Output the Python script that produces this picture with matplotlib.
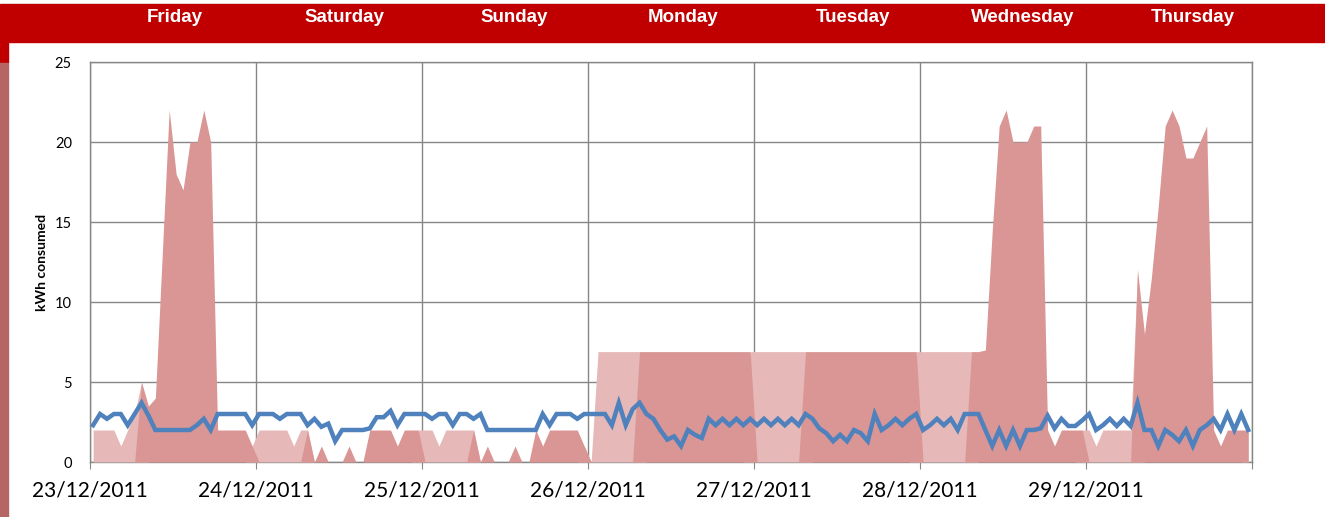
import matplotlib.pyplot as plt
import numpy as np
from matplotlib.patches import Rectangle

# Hourly readings, 23/12/2011 00:00 -> 29/12/2011 23:00
kwh_consumed = [
    # 23/12
    2, 2, 2, 2, 1, 2, 3, 5, 3.5, 4, 13, 22, 18, 17, 20, 20, 22, 20, 2, 2, 2, 2, 2, 1,
    # 24/12
    2, 2, 2, 2, 2, 1, 2, 2, 0, 1, 0, 0, 0, 1, 0, 0, 2, 2, 2, 2, 1, 2, 2, 2,
    # 25/12
    2, 2, 1, 2, 2, 2, 2, 2, 0, 1, 0, 0, 0, 1, 0, 0, 2, 1, 2, 2, 2, 2, 2, 1,
    # 26/12
    0, 6.9, 6.9, 6.9, 6.9, 6.9, 6.9, 6.9, 6.9, 6.9, 6.9, 6.9, 6.9, 6.9, 6.9, 6.9,
    6.9, 6.9, 6.9, 6.9, 6.9, 6.9, 6.9, 6.9,
    # 27/12
    6.9, 6.9, 6.9, 6.9, 6.9, 6.9, 6.9, 6.9, 6.9, 6.9, 6.9, 6.9, 6.9, 6.9, 6.9, 6.9,
    6.9, 6.9, 6.9, 6.9, 6.9, 6.9, 6.9, 6.9,
    # 28/12
    6.9, 6.9, 6.9, 6.9, 6.9, 6.9, 6.9, 6.9, 6.9, 7.0, 14.5, 21, 22, 20, 20, 20,
    21, 21, 2, 1, 2, 2, 2, 2,
    # 29/12
    2, 1, 2, 2, 2, 2, 2, 12, 8, 11.5, 16, 21, 22, 21, 19, 19, 20, 21, 2, 1, 2, 2, 2, 2,
]

baseline = [
    # 23/12
    2.3, 3.0, 2.7, 3.0, 3.0, 2.3, 3.0, 3.7, 2.9, 2.0, 2.0, 2.0, 2.0, 2.0, 2.0, 2.3,
    2.7, 2.0, 3.0, 3.0, 3.0, 3.0, 3.0, 2.3,
    # 24/12
    3.0, 3.0, 3.0, 2.7, 3.0, 3.0, 3.0, 2.3, 2.7, 2.2, 2.4, 1.3, 2.0, 2.0, 2.0, 2.0,
    2.1, 2.8, 2.8, 3.2, 2.3, 3.0, 3.0, 3.0,
    # 25/12
    3.0, 2.7, 3.0, 3.0, 2.3, 3.0, 3.0, 2.7, 3.0, 2.0, 2.0, 2.0, 2.0, 2.0, 2.0, 2.0,
    2.0, 3.0, 2.3, 3.0, 3.0, 3.0, 2.7, 3.0,
    # 26/12
    3.0, 3.0, 3.0, 2.3, 3.7, 2.3, 3.3, 3.7, 3.0, 2.7, 2.0, 1.4, 1.6, 1.0, 2.0, 1.7,
    1.5, 2.7, 2.3, 2.7, 2.3, 2.7, 2.3, 2.7,
    # 27/12
    2.3, 2.7, 2.3, 2.7, 2.3, 2.7, 2.3, 3.0, 2.7, 2.1, 1.8, 1.3, 1.7, 1.3, 2.0, 1.8,
    1.3, 3.0, 2.0, 2.3, 2.7, 2.3, 2.7, 3.0,
    # 28/12
    2.0, 2.3, 2.7, 2.3, 2.7, 2.0, 3.0, 3.0, 3.0, 2.0, 1.0, 2.0, 1.0, 2.0, 1.0, 2.0,
    2.0, 2.1, 2.9, 2.1, 2.7, 2.25, 2.25, 2.6,
    # 29/12
    3.0, 2.0, 2.3, 2.7, 2.25, 2.7, 2.25, 3.7, 2.0, 2.0, 1.0, 2.0, 1.7, 1.3, 2.0, 1.0,
    2.0, 2.3, 2.7, 2.0, 3.0, 2.0, 3.0, 2.0,
]

date_labels = ["23/12/2011", "24/12/2011", "25/12/2011", "26/12/2011",
               "27/12/2011", "28/12/2011", "29/12/2011", ""]
day_names = ["Friday", "Saturday", "Sunday", "Monday", "Tuesday", "Wednesday", "Thursday"]

kwh = np.array(kwh_consumed)
hours = np.arange(len(kwh))
x = hours + 0.45
hod = hours % 24
# night tariff 23:00-07:00, day tariff 07:00-23:00 (boundary hours in both)
night_kwh = np.where((hod <= 7) | (hod == 23), kwh, 0)
day_kwh = np.where(hod >= 7, kwh, 0)

W, H = 1325, 517
fig = plt.figure(figsize=(W / 100, H / 100), dpi=100, facecolor="white")

# red banner and left strip
fig.patches.append(Rectangle((0, (H - 42) / H), 1, 38 / H, transform=fig.transFigure,
                             color="#c00000", zorder=0))
fig.patches.append(Rectangle((0, (H - 63) / H), 8 / W, 21 / H, transform=fig.transFigure,
                             color="#c00000", zorder=0))
fig.patches.append(Rectangle((0, 0), 8 / W, (H - 63) / H, transform=fig.transFigure,
                             color="#b56664", zorder=0))

for k, name in enumerate(day_names):
    fig.text((174.7 + 169.6 * k) / W, 1 - 17.5 / H, name, color="white",
             fontsize=13.5, fontweight="bold", family="Liberation Sans",
             ha="center", va="center")

ax = fig.add_axes([90 / W, 55 / H, 1162 / W, 400 / H])
ax.fill_between(x, 0, night_kwh, color="#e6b9b8", lw=0, zorder=2)
ax.fill_between(x, 0, day_kwh, color="#d99694", lw=0, zorder=3)
ax.plot(x, baseline, color="#4f81bd", lw=3.2, zorder=4, solid_joinstyle="miter")

ax.set_xlim(0, 168)
ax.set_ylim(0, 25)
ax.set_xticks(np.arange(0, 169, 24))
ax.set_xticklabels(date_labels, fontsize=15, family="Lato")
ax.set_yticks(np.arange(0, 26, 5))
ax.set_yticklabels([str(v) for v in range(0, 26, 5)], fontsize=10.5, family="Lato")
ax.tick_params(axis="x", length=5, color="#868686", pad=8)
ax.tick_params(axis="y", length=0, pad=13)
ax.grid(True, color="#868686", lw=1, zorder=1)
ax.set_axisbelow(True)
for s in ax.spines.values():
    s.set_color("#868686")
    s.set_linewidth(1)
    s.set_zorder(1)
ax.set_ylabel("kWh consumed", fontsize=10, fontweight="bold", family="Lato",
              labelpad=5)

fig.savefig("out.png", dpi=100)
